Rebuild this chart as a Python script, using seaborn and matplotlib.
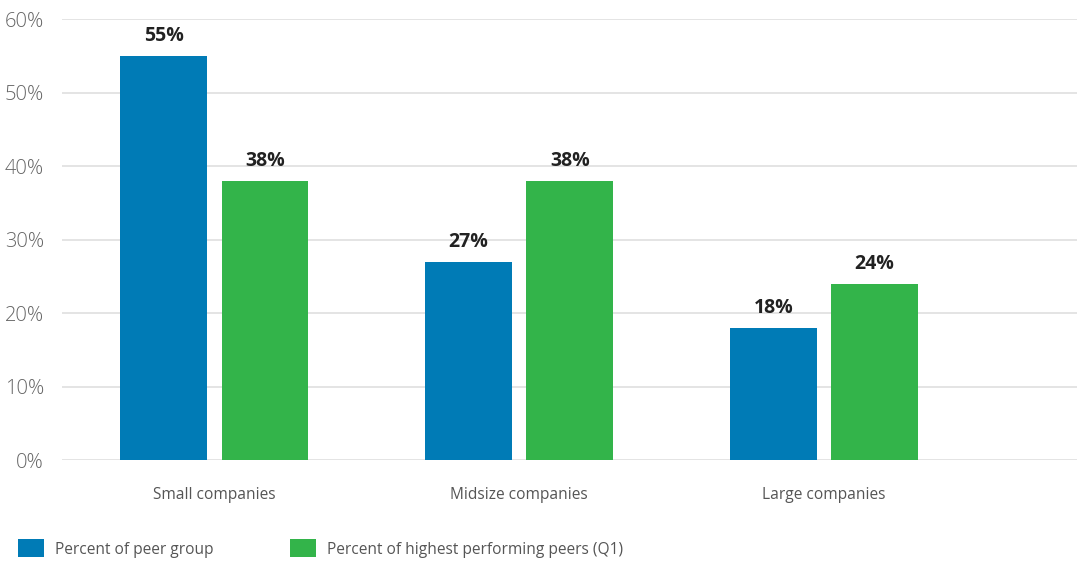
import matplotlib
matplotlib.use("Agg")
import matplotlib.pyplot as plt
import seaborn as sns
import pandas as pd

categories = ["Small companies", "Midsize companies", "Large companies"]
peer_group = [55, 27, 18]
top_quartile = [38, 38, 24]
series_names = ["Percent of peer group", "Percent of highest performing peers (Q1)"]
y_ticks = [0, 10, 20, 30, 40, 50, 60]

df = pd.DataFrame({
    "category": categories * 2,
    "value": peer_group + top_quartile,
    "series": [series_names[0]] * 3 + [series_names[1]] * 3,
})

sns.set_theme(style="white")
plt.rcParams["font.family"] = ["Open Sans", "DejaVu Sans"]

fig = plt.figure(figsize=(10.77, 5.66), dpi=100)
ax = fig.add_axes([0.0576, 0.187, 0.9424, 0.779])

palette = ["#007BB6", "#33B44A"]
sns.barplot(data=df, x="category", y="value", hue="series", order=categories,
            hue_order=series_names, palette=palette, width=0.664, gap=0.142,
            saturation=1, linewidth=0, legend=True, ax=ax)

for container in ax.containers:
    ax.bar_label(container, labels=[f"{v:.0f}%" for v in container.datavalues],
                 padding=7, fontsize=14, fontweight="bold", color="#222222")

ax.set_ylim(0, 60)
ax.set_xlim(-0.5, 2.83)
ax.set_yticks(y_ticks)
ax.set_yticklabels([f"{t}%" for t in y_ticks], fontweight="light")
ax.yaxis.grid(True, color="#e2e2e2", linewidth=1.3)
ax.set_axisbelow(True)
ax.tick_params(axis="y", length=0, pad=13, labelsize=14.5, labelcolor="#666666")
ax.tick_params(axis="x", length=0, pad=19, labelsize=11.2, labelcolor="#555555")
ax.set_xlabel("")
ax.set_ylabel("")
for s in ax.spines.values():
    s.set_visible(False)

handles, labels = ax.get_legend_handles_labels()
ax.get_legend().remove()
fig.legend(handles, labels, loc="lower left", bbox_to_anchor=(0.011, 0.004),
           ncol=2, frameon=False, fontsize=11.2, labelcolor="#555555",
           handlelength=1.65, handleheight=1.4, handletextpad=0.75,
           columnspacing=4.9, borderaxespad=0)

fig.savefig("out.png", dpi=100)
